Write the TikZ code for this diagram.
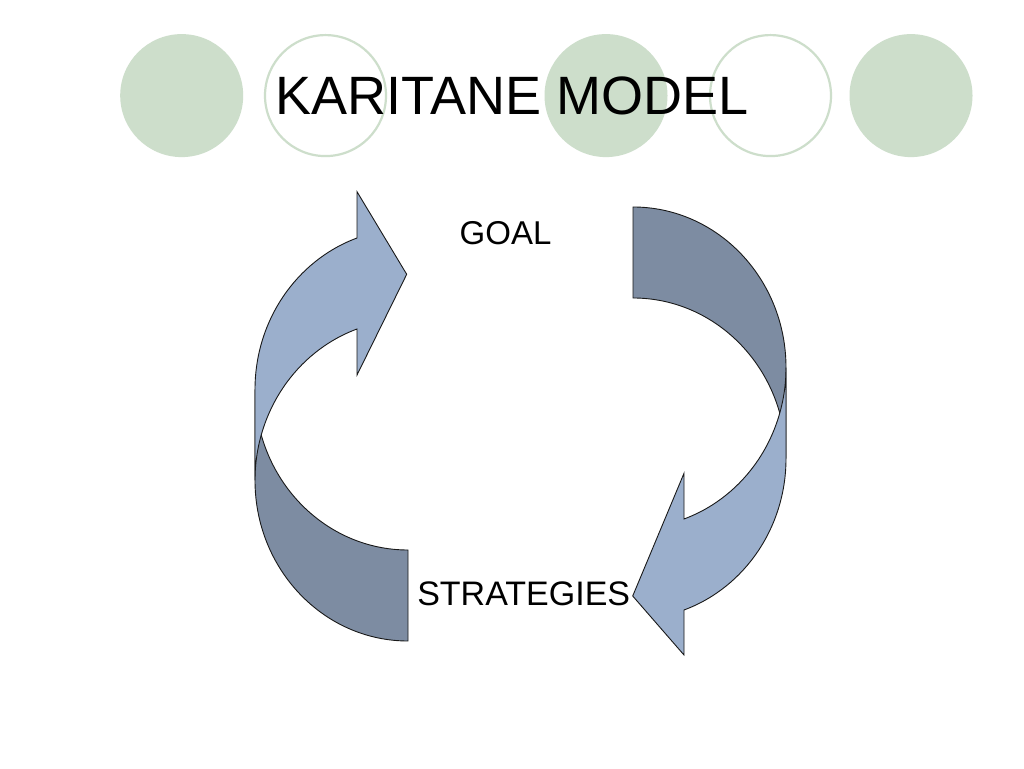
\documentclass[tikz,border=0pt]{standalone}
\usepackage{fontspec}
\setmainfont{Liberation Sans}
\definecolor{sage}{RGB}{205,222,203}
\definecolor{lightband}{RGB}{155,175,204}
\definecolor{darkband}{RGB}{125,140,162}
\begin{document}
\begin{tikzpicture}[x=1pt,y=1pt,
  dot/.style={circle,fill=sage,draw=none,minimum size=123pt,inner sep=0pt},
  ring/.style={circle,draw=sage,line width=2.2pt,fill=white,minimum size=121pt,inner sep=0pt},
  front/.style={fill=lightband,draw=black!90,line width=0.9pt,line join=miter},
  back/.style={fill=darkband,draw=black!90,line width=0.9pt,line join=miter},
  label/.style={inner sep=0pt,anchor=base},
  ell/.style={x radius=153pt,y radius=160.6pt}]
\useasboundingbox (0,0) rectangle (1024,768);
\fill[white] (0,0) rectangle (1024,768);
% decorative circles
\node[dot]  (c1) at (181.7,672.4) {};
\node[ring] (c2) at (325.5,672.4) {};
\node[dot]  (c3) at (606,672.4) {};
\node[ring] (c4) at (770.5,672.4) {};
\node[dot]  (c5) at (911,672.4) {};
% title
\node[inner sep=0pt,anchor=base,font=\fontsize{54}{64}\selectfont] (title) at (512,653) {KARITANE MODEL};
% left arrow: back band
\draw[back] (408,127) arc[start angle=270,end angle=180,ell]
  -- (255,378.6) arc[start angle=180,end angle=270,ell] -- cycle;
% left arrow: front band with head
\draw[front] (255,378.6) arc[start angle=180,end angle=109.47,ell]
  -- (357,576.3) -- (406.7,493.7) -- (357,393) -- (357,439.0)
  arc[start angle=109.47,end angle=180,ell] -- cycle;
% right arrow: back band
\draw[back] (633,561) arc[start angle=90,end angle=0,ell]
  -- (786,309.4) arc[start angle=0,end angle=90,ell] -- cycle;
% right arrow: front band with head
\draw[front] (786,309.4) arc[start angle=0,end angle=-70.53,ell]
  -- (684,113) -- (632.7,172) -- (684,294.7) -- (684,249.0)
  arc[start angle=-70.53,end angle=0,ell] -- cycle;
% labels
\node[label,font=\fontsize{33}{40}\selectfont] (goal) at (505.5,523) {GOAL};
\node[label,font=\fontsize{34}{41}\selectfont] (strategies) at (523.7,162) {STRATEGIES};
\end{tikzpicture}
\end{document}
